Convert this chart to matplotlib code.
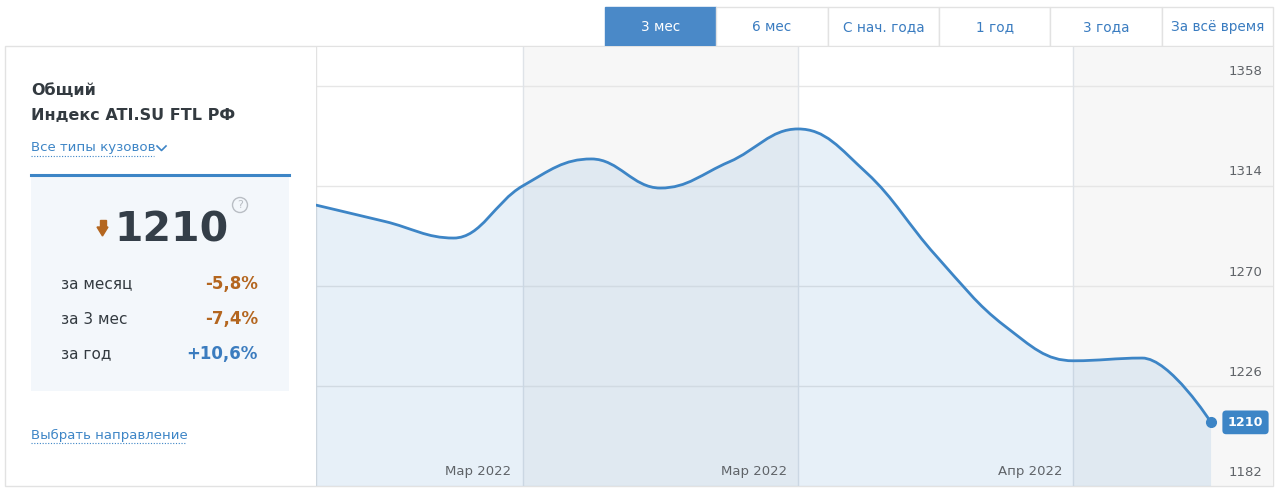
import numpy as np
import matplotlib
matplotlib.use("Agg")
import matplotlib.pyplot as plt
from matplotlib.path import Path
from matplotlib.patches import PathPatch, Rectangle, Circle, Polygon

plt.rcParams["font.family"] = ["DejaVu Sans"]

# weekly index values, last 3 months
weeks = np.arange(14)
index_values = [1305.6, 1298.4, 1291.1, 1314.0, 1325.9, 1313.1, 1324.6,
                1339.1, 1319.7, 1283.5, 1252.5, 1237.1, 1238.3, 1210.0]
x_tick_pos = [3, 7, 11]
x_tick_labels = ["Мар 2022", "Мар 2022", "Апр 2022"]
y_ticks = [1182, 1226, 1270, 1314, 1358]

tabs = ["3 мес", "6 мес", "С нач. года", "1 год", "3 года", "За всё время"]
stat_labels = ["за месяц", "за 3 мес", "за год"]
stat_values = ["-5,8%", "-7,4%", "+10,6%"]
current_value = 1210

BLUE = "#3d85c6"
ORANGE = "#b4661f"
GRID = "#e6e6e6"
BORDER = "#e2e2e2"


def spline_path(xs, ys, smoothing=1.5):
    # highcharts-like spline control points
    n = len(xs)
    right = [None] * n
    verts = [(xs[0], ys[0])]
    codes = [Path.MOVETO]
    denom = smoothing + 1
    for i in range(1, n):
        x, y = xs[i], ys[i]
        lx, ly = x, y
        if i < n - 1:
            px_, py_ = xs[i - 1], ys[i - 1]
            nx, ny = xs[i + 1], ys[i + 1]
            lx = (smoothing * x + px_) / denom
            ly = (smoothing * y + py_) / denom
            rx = (smoothing * x + nx) / denom
            ry = (smoothing * y + ny) / denom
            corr = (ry - ly) * (rx - x) / (rx - lx) + y - ry
            ly += corr
            ry += corr
            if ly > py_ and ly > y:
                ly = max(py_, y)
                ry = 2 * y - ly
            elif ly < py_ and ly < y:
                ly = min(py_, y)
                ry = 2 * y - ly
            if ry > ny and ry > y:
                ry = max(ny, y)
                ly = 2 * y - ry
            elif ry < ny and ry < y:
                ry = min(ny, y)
                ly = 2 * y - ry
            right[i] = (rx, ry)
        c1 = right[i - 1] if right[i - 1] is not None else (xs[i - 1], ys[i - 1])
        verts += [c1, (lx, ly), (x, y)]
        codes += [Path.CURVE4] * 3
    return verts, codes


fig = plt.figure(figsize=(12.8, 4.91), dpi=100)

# page layer in pixel coords
bg = fig.add_axes([0, 0, 1, 1])
bg.set_xlim(0, 1280)
bg.set_ylim(491, 0)
bg.axis("off")

# outer card
bg.add_patch(Rectangle((5, 46), 1268, 440, facecolor="white", edgecolor=BORDER, lw=1))

# tabs
tab_w = (1273 - 605) / len(tabs)
for i, t in enumerate(tabs):
    x0 = 605 + i * tab_w
    active = i == 0
    bg.add_patch(Rectangle((x0, 7), tab_w, 39, facecolor="#4a89c8" if active else "white",
                           edgecolor="#4a89c8" if active else BORDER, lw=1))
    bg.text(x0 + tab_w / 2, 27, t, ha="center", va="center", fontsize=9.8,
            color="white" if active else "#3a7cc0")

# left panel
bg.text(31, 90, "Общий", fontsize=11.5, fontweight="bold", color="#333a40", va="center")
bg.text(31, 115, "Индекс ATI.SU FTL РФ", fontsize=11.5, fontweight="bold", color="#333a40", va="center")
bg.text(31, 148, "Все типы кузовов", fontsize=9.6, color=BLUE, va="center")
bg.plot([31, 154], [156, 156], color=BLUE, lw=0.8, ls=(0, (1, 1.5)))
bg.plot([157, 161.5, 166], [146, 150.5, 146], color=BLUE, lw=1.2)

bg.add_patch(Rectangle((31, 174), 258, 217, facecolor="#f3f7fb", edgecolor="none"))
bg.plot([31, 289], [175, 175], color=BLUE, lw=2.2)

bg.add_patch(Polygon([[97, 227], [108, 227], [102.5, 236]], closed=True, color=ORANGE))
bg.add_patch(Rectangle((99.5, 220), 6, 8, color=ORANGE))
bg.text(172, 231, str(current_value), fontsize=29.5, fontweight="bold", color="#343e48",
        ha="center", va="center")
bg.add_patch(Circle((240, 205), 7.5, facecolor="none", edgecolor="#b9bec4", lw=1))
bg.text(240, 205.5, "?", fontsize=8, color="#b9bec4", ha="center", va="center")

for i, (lab, val) in enumerate(zip(stat_labels, stat_values)):
    yy = 284 + i * 35
    bg.text(61, yy, lab, fontsize=11, color="#333a40", va="center")
    bg.text(258, yy, val, fontsize=12, fontweight="bold", ha="right", va="center",
            color="#3b7cbf" if val.startswith("+") else ORANGE)

bg.text(31, 435, "Выбрать направление", fontsize=9.5, color=BLUE, va="center")
bg.plot([31, 186], [443, 443], color=BLUE, lw=0.8, ls=(0, (1, 1.5)))

# chart
px_per_week = 68.85
val_per_px = 0.44
ax = fig.add_axes([316 / 1280, 5 / 491, 957 / 1280, 440 / 491])
ax.set_xlim(0, (1273 - 316) / px_per_week)
ax.set_ylim(1182, 1182 + 440 * val_per_px)
ax.axis("off")
ax.add_patch(Rectangle((0, 1182), 20, 300, facecolor="white", edgecolor="none", zorder=0))

xmax = ax.get_xlim()[1]
for a, b in [(3, 7), (11, xmax)]:
    ax.axvspan(a, b, color="#f7f7f7", lw=0, zorder=0.5)
for y in y_ticks:
    ax.axhline(y, color=GRID, lw=1, zorder=1)
for xv in x_tick_pos:
    ax.axvline(xv, color="#dfe3e8", lw=1, zorder=1)
ax.axvline(0, color=BORDER, lw=1, zorder=1)
ax.axhline(ax.get_ylim()[1], color=BORDER, lw=1.5, zorder=6)

verts, codes = spline_path(list(weeks.astype(float)), index_values)
fill_verts = verts + [(weeks[-1], 1182), (weeks[0], 1182), verts[0]]
fill_codes = codes + [Path.LINETO, Path.LINETO, Path.CLOSEPOLY]
ax.add_patch(PathPatch(Path(fill_verts, fill_codes), facecolor=BLUE, alpha=0.12,
                       edgecolor="none", zorder=2))
ax.add_patch(PathPatch(Path(verts, codes), facecolor="none", edgecolor=BLUE, lw=2,
                       zorder=3, capstyle="round"))
ax.plot(weeks[-1], index_values[-1], "o", color=BLUE, ms=7, zorder=4, clip_on=False)

label_x = (1262 - 316) / px_per_week
for y in y_ticks:
    ax.text(label_x, y + 14 * val_per_px, str(y), ha="right", va="center",
            fontsize=9.5, color="#5f6368", zorder=5)
for xv, lab in zip(x_tick_pos, x_tick_labels):
    ax.text(xv - 11 / px_per_week, 1182 + 15 * val_per_px, lab, ha="right", va="center",
            fontsize=9.5, color="#5f6368", zorder=5)

badge_x = (1245.5 - 316) / px_per_week
ax.text(badge_x, index_values[-1], str(current_value), ha="center", va="center",
        fontsize=9.2, fontweight="bold", color="white", zorder=6,
        bbox=dict(boxstyle="round,pad=0.42,rounding_size=0.3", facecolor=BLUE, edgecolor="none"))

fig.savefig("out.png", dpi=100)
